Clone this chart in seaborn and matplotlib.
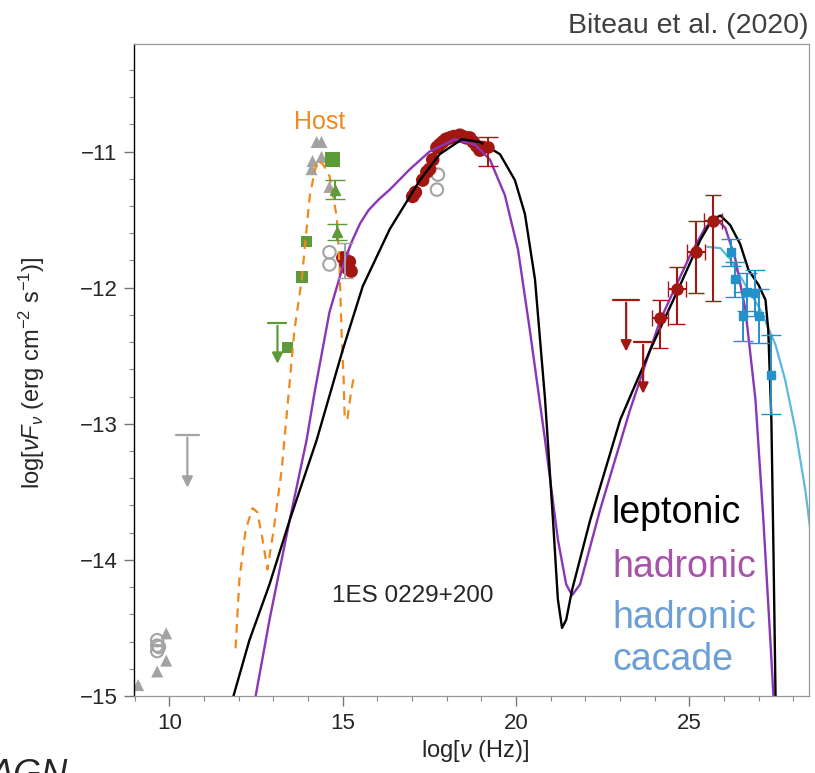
import matplotlib
matplotlib.use('Agg')
import matplotlib.pyplot as plt
import seaborn as sns
from matplotlib.ticker import MultipleLocator

# ---- model curves (log nu, log nuFnu) ----
lep_x = [11.85, 12.31, 12.89, 13.47, 14.25, 15.0, 15.58, 16.36, 17.23, 17.80, 18.44, 18.96,
         19.54, 19.97, 20.26, 20.55, 20.84, 21.07, 21.21, 21.33, 21.45, 21.62, 22.14, 23.01,
         23.87, 24.74, 25.32, 25.66, 25.90, 26.18, 26.47, 26.71, 27.00, 27.20, 27.28, 27.37,
         27.43, 27.49]
lep_y = [-15.0, -14.59, -14.18, -13.71, -13.12, -12.46, -11.99, -11.57, -11.21, -11.02, -10.91, -10.93,
         -11.02, -11.21, -11.46, -11.94, -12.82, -13.71, -14.29, -14.50, -14.44, -14.22, -13.71, -12.97,
         -12.46, -11.98, -11.65, -11.50, -11.47, -11.54, -11.68, -11.87, -11.98, -12.09, -12.31, -12.97,
         -13.93, -15.0]

had_x = [12.49, 12.89, 13.47, 13.96, 14.19, 14.62, 15.00, 15.25, 15.50, 15.75, 16.05, 16.36, 16.94,
         17.51, 18.24, 18.82, 19.25, 19.68, 20.06, 20.40, 20.84, 21.21, 21.45, 21.62, 21.85, 22.43,
         23.29, 24.16, 25.03, 25.46, 25.75, 26.04, 26.33, 26.62, 26.91, 27.14, 27.34, 27.43]
had_y = [-15.0, -14.44, -13.71, -13.12, -12.77, -12.18, -11.85, -11.67, -11.53, -11.43, -11.35, -11.28, -11.13,
         -11.0, -10.91, -10.95, -11.06, -11.32, -11.72, -12.31, -13.12, -13.85, -14.18, -14.26, -14.18, -13.63,
         -12.90, -12.24, -11.76, -11.56, -11.49, -11.56, -11.79, -12.16, -12.82, -13.71, -14.59, -15.0]

cas_x = [25.52, 25.90, 26.18, 26.62, 27.05, 27.49, 27.77, 28.06, 28.35, 28.55]
cas_y = [-11.70, -11.71, -11.79, -11.98, -12.16, -12.42, -12.68, -13.04, -13.49, -13.89]

host_x = [11.91, 12.02, 12.20, 12.40, 12.54, 12.69, 12.83, 13.01, 13.24, 13.61, 13.82, 14.05, 14.19,
          14.28, 14.45, 14.62, 14.83, 14.91, 14.97, 15.03, 15.06, 15.14, 15.23, 15.29, 15.35]
host_y = [-14.65, -14.15, -13.78, -13.62, -13.65, -13.85, -14.07, -13.78, -13.34, -12.31, -11.94, -11.33, -11.15,
          -11.06, -11.10, -11.18, -11.48, -11.85, -12.33, -12.68, -12.97, -12.96, -12.79, -12.70, -12.63]

# ---- data points ----
# X-ray / UV (dark red)
xr_x = [17.02, 17.10, 17.31, 17.43, 17.51, 17.60, 17.72, 17.80, 17.89, 17.98, 18.09, 18.20, 18.29,
        18.38, 18.47, 18.57, 18.67, 18.77, 18.87, 18.96, 19.05]
xr_y = [-11.33, -11.30, -11.21, -11.15, -11.13, -11.06, -10.97, -10.95, -10.93, -10.91, -10.90, -10.89, -10.89,
        -10.88, -10.89, -10.90, -10.90, -10.93, -10.96, -10.99, -10.97]
xr_err_x = [19.19]
xr_err_y = [-10.97]
xr_err_lo = [0.14]
xr_err_hi = [0.08]

# optical/UV red near 15
uv_x = [15.00, 15.08, 15.14, 15.20, 15.25]
uv_y = [-11.78, -11.83, -11.86, -11.81, -11.88]

# Fermi-LAT (dark red)
lat_x = [24.16, 24.65, 25.20, 25.69]
lat_y = [-12.22, -12.01, -11.74, -11.51]
lat_xerr = [0.24, 0.27, 0.26, 0.25]
lat_ylo = [0.22, 0.26, 0.30, 0.59]
lat_yhi = [0.13, 0.16, 0.23, 0.19]
lat_ul_x = [23.18, 23.67]
lat_ul_y = [-12.09, -12.40]
lat_ul_xerr = [0.37, 0.26]

# H.E.S.S. (blue squares)
hess_x = [26.21, 26.33, 26.56, 26.68, 26.91, 27.02, 27.37]
hess_y = [-11.74, -11.94, -12.21, -12.03, -12.04, -12.21, -12.64]
hess_yerr = [0.10, 0.13, 0.18, 0.14, 0.17, 0.20, 0.29]

# Green (optical / IR)
gsq_x = [13.41, 13.82, 13.96, 14.71]
gsq_y = [-12.44, -11.92, -11.66, -11.06]
gtri_x = [14.77, 14.83]
gtri_y = [-11.28, -11.59]
gtri_yerr = [0.07, 0.06]
g_ul_x = [13.12]
g_ul_y = [-12.26]

# Gray archival
gray_tri_x = [9.10, 9.65, 9.91, 9.91, 14.10, 14.13, 14.25, 14.39, 14.39, 14.62, 15.14]
gray_tri_y = [-14.92, -14.82, -14.74, -14.54, -11.13, -11.07, -10.93, -10.93, -11.04, -11.26, -11.76]
gray_circ_x = [9.65, 9.65, 9.65, 9.70, 14.62, 14.62, 17.75, 17.72]
gray_circ_y = [-14.59, -14.63, -14.67, -14.64, -11.74, -11.83, -11.17, -11.28]
gray_err_x = [15.08]
gray_err_y = [-11.80]
gray_err = [0.13]
gray_ul_x = [10.52]
gray_ul_y = [-13.08]

RED = '#a31712'
GREEN = '#5c9a3a'
GRAY = '#a3a3a3'
BLUE = '#2591c9'
ORANGE = '#f0891d'
PURPLE = '#8b35b8'
CYAN = '#5cbad9'

sns.set_style('ticks')
plt.rcParams['font.family'] = ['Liberation Sans', 'DejaVu Sans']
plt.rcParams['mathtext.fontset'] = 'custom'
plt.rcParams['mathtext.it'] = 'Liberation Sans:italic'
plt.rcParams['mathtext.rm'] = 'Liberation Sans'

fig = plt.figure(figsize=(8.15, 7.73), dpi=100)
ax = fig.add_axes([0.1644, 0.0996, 0.828, 0.8435])

# curves
sns.lineplot(x=host_x, y=host_y, sort=False, color=ORANGE, lw=1.6, ls=(0, (4, 3)), ax=ax)
sns.lineplot(x=cas_x, y=cas_y, sort=False, color=CYAN, lw=1.6, ax=ax)
sns.lineplot(x=had_x, y=had_y, sort=False, color=PURPLE, lw=1.7, ax=ax)
sns.lineplot(x=lep_x, y=lep_y, sort=False, color='black', lw=1.7, ax=ax)

# upper limits
def upper_limits(xs, ys, xerr, color, length):
    for x, y, xe in zip(xs, ys, xerr):
        ax.plot([x - xe, x + xe], [y, y], color=color, lw=1.6)
        ax.annotate('', xy=(x, y - length), xytext=(x, y),
                    arrowprops=dict(arrowstyle='-|>', color=color, lw=1.6, mutation_scale=16))

upper_limits(lat_ul_x, lat_ul_y, lat_ul_xerr, RED, 0.40)
upper_limits(g_ul_x, g_ul_y, [0.26], GREEN, 0.32)
upper_limits(gray_ul_x, gray_ul_y, [0.33], GRAY, 0.41)

# gray points
ax.errorbar(gray_err_x, gray_err_y, yerr=gray_err, fmt='none', ecolor=GRAY, capsize=6, lw=1.4)
sns.scatterplot(x=gray_tri_x, y=gray_tri_y, marker='^', s=75, color=GRAY, edgecolor='none', ax=ax)
ax.scatter(gray_circ_x, gray_circ_y, s=80, facecolor='none', edgecolor=GRAY, lw=1.5)

# green
ax.errorbar(gtri_x, gtri_y, yerr=gtri_yerr, fmt='^', color=GREEN, ms=7, capsize=7, lw=1.4)
sns.scatterplot(x=gsq_x, y=gsq_y, marker='s', s=[70, 70, 70, 110], color=GREEN, edgecolor='none', ax=ax)

# red
sns.scatterplot(x=uv_x, y=uv_y, marker='o', s=90, color=RED, edgecolor='none', ax=ax)
sns.scatterplot(x=xr_x, y=xr_y, marker='o', s=95, color=RED, edgecolor='none', ax=ax)
ax.errorbar(xr_err_x, xr_err_y, yerr=[xr_err_lo, xr_err_hi], fmt='o', color=RED, ms=8,
            capsize=7, lw=1.4)
ax.errorbar(lat_x, lat_y, xerr=lat_xerr, yerr=[lat_ylo, lat_yhi], fmt='o', color=RED, ms=8,
            capsize=6, lw=1.5)

# HESS
ax.errorbar(hess_x, hess_y, yerr=hess_yerr, fmt='s', color=BLUE, ms=6,
            capsize=7, lw=1.4)

# texts
ax.text(14.34, -10.78, 'Host', color=ORANGE, fontsize=18, ha='center', va='center')
ax.text(14.68, -14.31, '1ES 0229+200', fontsize=17.5, ha='left', va='baseline')
ax.text(22.77, -13.73, 'leptonic', fontsize=27, color='black', va='baseline')
ax.text(22.77, -14.125, 'hadronic', fontsize=27, color='#a653a8', va='baseline')
ax.text(22.77, -14.50, 'hadronic', fontsize=27, color='#6b9fd6', va='baseline')
ax.text(22.77, -14.81, 'cacade', fontsize=27, color='#6b9fd6', va='baseline')

fig.text(0.992, 0.957, 'Biteau et al. (2020)', fontsize=20.5, color='#404040', ha='right', va='baseline')
fig.text(-0.012, 0.019, 'AGN', fontsize=26, style='italic', ha='left', va='top')

ax.set_xlim(8.98, 28.45)
ax.set_ylim(-15.0, -10.21)
ax.xaxis.set_major_locator(MultipleLocator(5))
ax.xaxis.set_minor_locator(MultipleLocator(1))
ax.yaxis.set_major_locator(MultipleLocator(1))
ax.yaxis.set_minor_locator(MultipleLocator(0.2))
ax.tick_params(which='major', direction='out', length=7, width=1, labelsize=16, pad=5, color='#777777')
ax.tick_params(which='minor', direction='out', length=3.5, width=0.8, color='#888888')
ax.set_xlabel(r'log[$\nu$ (Hz)]', fontsize=17)
ax.set_ylabel(r'log[$\nu F_\nu$ (erg cm$^{-2}$ s$^{-1}$)]', fontsize=17)
ax.xaxis.label.set_va('center')
ax.xaxis.set_label_coords(0.505, -0.085)
ax.yaxis.label.set_va('center')
ax.yaxis.set_label_coords(-0.152, 0.495)
ax.spines['left'].set_color('black')
ax.spines['left'].set_linewidth(1.0)
for side in ['top', 'right', 'bottom']:
    ax.spines[side].set_color('#999999')
    ax.spines[side].set_linewidth(0.9)

fig.savefig('out.png', dpi=100)
